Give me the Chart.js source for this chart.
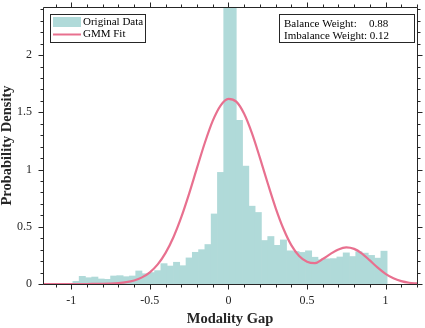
<!DOCTYPE html>
<html>
<head>
<meta charset="utf-8">
<script src="https://cdn.jsdelivr.net/npm/chart.js@4.4.0/dist/chart.umd.min.js"></script>
<style>
  html, body { margin: 0; padding: 0; background: #fff; }
</style>
</head>
<body>
<canvas id="chart" width="425" height="328"></canvas>
<script>
// histogram bins (centres, width 0.04) and density
const binCenters = [
  -0.97, -0.93, -0.89, -0.85, -0.81, -0.77, -0.73, -0.69, -0.65, -0.61,
  -0.57, -0.53, -0.49, -0.45, -0.41, -0.37, -0.33, -0.29, -0.25, -0.21,
  -0.17, -0.13, -0.09, -0.05, -0.01, 0.03, 0.07, 0.11, 0.15, 0.19,
  0.23, 0.27, 0.31, 0.35, 0.39, 0.43, 0.47, 0.51, 0.55, 0.59,
  0.63, 0.67, 0.71, 0.75, 0.79, 0.83, 0.87, 0.91, 0.95, 0.99
];
const binDensity = [
  0.023, 0.067, 0.055, 0.061, 0.044, 0.041, 0.070, 0.073, 0.064, 0.070,
  0.114, 0.090, 0.100, 0.117, 0.178, 0.157, 0.190, 0.160, 0.228, 0.277,
  0.300, 0.345, 0.612, 0.975, 6.1, 5.1, 1.43, 1.03, 0.680, 0.625,
  0.380, 0.415, 0.338, 0.385, 0.290, 0.284, 0.276, 0.290, 0.234, 0.212,
  0.220, 0.222, 0.236, 0.272, 0.240, 0.282, 0.270, 0.250, 0.226, 0.287
];

// GMM fit curve, sampled every 0.05
const fitX = [
  -1.2, -1.15, -1.1, -1.05, -1, -0.95, -0.9, -0.85, -0.8, -0.75,
  -0.7, -0.65, -0.6, -0.55, -0.5, -0.45, -0.4, -0.35, -0.3, -0.25,
  -0.2, -0.15, -0.1, -0.05, 0, 0.05, 0.1, 0.15, 0.2, 0.25,
  0.3, 0.35, 0.4, 0.45, 0.5, 0.55, 0.6, 0.65, 0.7, 0.75,
  0.8, 0.85, 0.9, 0.95, 1, 1.05, 1.1, 1.15, 1.2
];
const fitY = [
  0, 0, 0, 0, 0, 0, 0, 0.001, 0.002, 0.004,
  0.008, 0.016, 0.031, 0.058, 0.102, 0.171, 0.272, 0.409, 0.584, 0.790,
  1.014, 1.234, 1.425, 1.559, 1.618, 1.593, 1.487, 1.316, 1.104, 0.880,
  0.666, 0.483, 0.340, 0.245, 0.195, 0.182, 0.218, 0.263, 0.302, 0.320,
  0.307, 0.266, 0.206, 0.143, 0.089, 0.050, 0.025, 0.011, 0.005
];

const xTicks = [-1, -0.5, 0, 0.5, 1];
const yTicks = [0, 0.5, 1, 1.5, 2];
const balanceWeight = 0.88;
const imbalanceWeight = 0.12;

const axisColor = '#262626';
const barColor = 'rgb(176, 218, 217)';
const lineColor = 'rgb(232, 112, 143)';
const serif = "'Liberation Serif', 'Times New Roman', serif";

// MATLAB-like box, outward ticks on all four sides, legend and weight box
const overlayPlugin = {
    id: 'overlay',
    afterDraw(chart) {
        const ctx = chart.ctx;
        const a = chart.chartArea;
        const xs = chart.scales.x;
        const ys = chart.scales.y;
        const L = a.left + 0.5, R = a.right + 0.5, T = a.top + 0.5, B = a.bottom + 0.5;

        ctx.save();
        ctx.strokeStyle = axisColor;
        ctx.lineWidth = 1;
        ctx.beginPath();
        ctx.rect(L, T, R - L, B - T);

        for (let i = -12; i <= 12; i++) {
            const v = i / 10;
            if (v < xs.min || v > xs.max) continue;
            const len = (i % 5 === 0) ? 5 : 3;
            const px = Math.round(xs.getPixelForValue(v)) + 0.5;
            ctx.moveTo(px, B); ctx.lineTo(px, B + len);
            ctx.moveTo(px, T); ctx.lineTo(px, T - len);
        }
        for (let i = 0; i <= 24; i++) {
            const v = i / 10;
            if (v > ys.max) continue;
            const len = (i % 5 === 0) ? 5 : 3;
            const py = Math.round(ys.getPixelForValue(v)) + 0.5;
            ctx.moveTo(L, py); ctx.lineTo(L - len, py);
            ctx.moveTo(R, py); ctx.lineTo(R + len, py);
        }
        ctx.stroke();

        // legend
        ctx.font = '11px ' + serif;
        ctx.textBaseline = 'middle';
        ctx.textAlign = 'left';
        ctx.fillStyle = '#fff';
        ctx.fillRect(50.5, 14.5, 95, 28);
        ctx.strokeRect(50.5, 14.5, 95, 28);
        const ds = chart.data.datasets;
        ctx.fillStyle = ds[0].backgroundColor;
        ctx.fillRect(53, 17, 28, 10);
        ctx.strokeStyle = ds[1].borderColor;
        ctx.lineWidth = 2;
        ctx.beginPath();
        ctx.moveTo(53, 34.5); ctx.lineTo(81, 34.5);
        ctx.stroke();
        ctx.fillStyle = '#000';
        ctx.fillText(ds[0].label, 83, 22.5);
        ctx.fillText(ds[1].label, 83, 34.5);

        // weights box
        ctx.lineWidth = 1;
        ctx.strokeStyle = axisColor;
        ctx.fillStyle = '#fff';
        ctx.fillRect(279.5, 14.5, 135, 28);
        ctx.strokeRect(279.5, 14.5, 135, 28);
        ctx.fillStyle = '#000';
        ctx.fillText('Balance Weight:', 284, 24.5);
        ctx.fillText(balanceWeight.toFixed(2), 369, 24.5);
        ctx.fillText('Imbalance Weight: ' + imbalanceWeight.toFixed(2), 284, 36);
        ctx.restore();
    }
};

function noPad(s) {
    s.paddingTop = 0;
    s.paddingBottom = 0;
    s.paddingLeft = 0;
    s.paddingRight = 0;
}

new Chart(document.getElementById('chart'), {
    type: 'bar',
    data: {
        datasets: [
            {
                type: 'bar',
                label: 'Original Data',
                data: binCenters.map((x, i) => ({ x: x, y: binDensity[i] })),
                backgroundColor: barColor,
                borderWidth: 0,
                barPercentage: 1,
                categoryPercentage: 1,
                order: 1
            },
            {
                type: 'line',
                label: 'GMM Fit',
                data: fitX.map((x, i) => ({ x: x, y: fitY[i] })),
                borderColor: lineColor,
                borderWidth: 2.2,
                pointRadius: 0,
                fill: false,
                cubicInterpolationMode: 'monotone',
                order: 0
            }
        ]
    },
    options: {
        responsive: false,
        animation: false,
        devicePixelRatio: 1,
        layout: { padding: { top: 7, right: 8, left: 0, bottom: 0 } },
        plugins: {
            legend: { display: false },
            tooltip: { enabled: false }
        },
        scales: {
            x: {
                type: 'linear',
                offset: false,
                min: -1.18,
                max: 1.2,
                grid: { display: false, drawTicks: false },
                border: { display: false },
                afterBuildTicks: s => { s.ticks = xTicks.map(v => ({ value: v })); },
                afterFit: s => { s.height = 44; noPad(s); },
                ticks: {
                    color: axisColor,
                    padding: 10,
                    maxRotation: 0,
                    font: { family: serif, size: 12 },
                    callback: v => String(v)
                },
                title: {
                    display: true,
                    text: 'Modality Gap',
                    color: axisColor,
                    padding: { top: 0, bottom: 2 },
                    font: { family: serif, size: 14.5, weight: 'bold', lineHeight: 1 }
                }
            },
            y: {
                min: 0,
                max: 2.42,
                grid: { display: false, drawTicks: false },
                border: { display: false },
                afterBuildTicks: s => { s.ticks = yTicks.map(v => ({ value: v })); },
                afterFit: s => { s.width = 43; noPad(s); },
                ticks: {
                    color: axisColor,
                    padding: 11,
                    font: { family: serif, size: 12 },
                    callback: v => String(v)
                },
                title: {
                    display: true,
                    text: 'Probability Density',
                    color: axisColor,
                    padding: { top: 0, bottom: 0 },
                    font: { family: serif, size: 14.5, weight: 'bold', lineHeight: 1 }
                }
            }
        }
    },
    plugins: [overlayPlugin]
});
</script>
</body>
</html>
